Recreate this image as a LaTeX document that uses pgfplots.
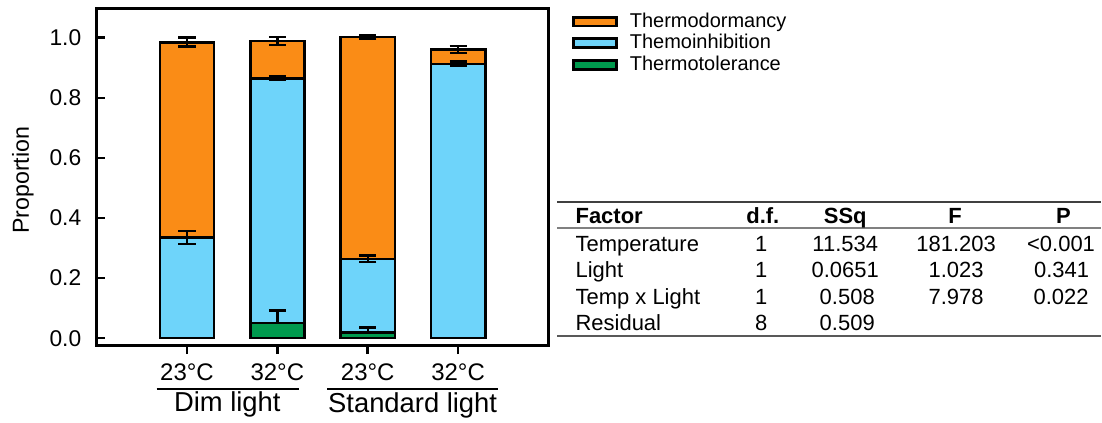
\documentclass[border=0pt]{standalone}
\usepackage{fontspec}
\setmainfont{Liberation Sans}
\usepackage{pgfplots}
\pgfplotsset{compat=1.18}
\definecolor{torange}{RGB}{250,140,22}
\definecolor{tblue}{RGB}{110,212,250}
\definecolor{tgreen}{RGB}{0,154,78}
\begin{document}
\begin{tikzpicture}
\pgfplotsset{myaxis/.style={at={(48.35pt,-173pt)}, anchor=south west, scale only axis,
  width=226.15pt, height=168.85pt, xmin=-1, xmax=4, ymin=-0.025, ymax=1.098}}
\begin{axis}[myaxis, ybar stacked, bar width=0.6,
  axis line style={line width=1.3pt},
  xtick={0,1,2,3}, xticklabels={23°C,32°C,23°C,32°C},
  ytick={0,0.2,0.4,0.6,0.8,1.0}, yticklabels={0.0,0.2,0.4,0.6,0.8,1.0},
  tick align=inside, xtick pos=left, ytick pos=left,
  major tick length=4.2pt,
  tick style={line width=1.3pt, black},
  xtick style={yshift=-4.2pt},
  xticklabel style={font=\fontsize{12}{14}\selectfont, anchor=base, yshift=-17.35pt, inner sep=0pt},
  yticklabel style={font=\fontsize{11.4}{13}\selectfont, anchor=east, inner sep=0pt, xshift=-7.5pt},
  ylabel={Proportion},
  ylabel style={font=\fontsize{11.6}{13}\selectfont, at={(axis description cs:-0.163,0.49)}, anchor=center},
]
\addplot[fill=tgreen, draw=black, line width=1.3pt] coordinates {(0,0) (1,0.051) (2,0.018) (3,0)};
\addplot[fill=tblue, draw=black, line width=1.3pt] coordinates {(0,0.335) (1,0.814) (2,0.246) (3,0.913)};
\addplot[fill=torange, draw=black, line width=1.3pt] coordinates {(0,0.650) (1,0.124) (2,0.739) (3,0.048)};
\end{axis}
\begin{axis}[myaxis, hide axis]
\addplot[draw=none, mark=none, error bars/.cd, y dir=both, y explicit,
  error bar style={draw=black, line width=1.2pt},
  error mark options={draw=black, line width=1.3pt, rotate=90, mark size=4.3pt}]
  coordinates {(0,0.335) +- (0,0.022) (0,0.985) +- (0,0.015)
               (1,0.865) +- (0,0.006) (1,0.989) +- (0,0.013)
               (2,0.264) +- (0,0.011) (2,1.003) +- (0,0.006)
               (3,0.913) +- (0,0.007) (3,0.961) +- (0,0.012)};
\addplot[draw=none, mark=none, error bars/.cd, y dir=plus, y explicit,
  error bar style={draw=black, line width=1.2pt},
  error mark options={draw=black, line width=1.3pt, rotate=90, mark size=4.3pt}]
  coordinates {(1,0.051) +- (0,0.042) (2,0.018) +- (0,0.018)};
\end{axis}
\begin{scope}[x=0.5pt, y=-0.5pt]
\path (0,0) rectangle (1102,423);
% group labels
\draw[line width=1pt] (156.7,389.3) -- (299.3,389.3);
\draw[line width=1pt] (327.3,389.3) -- (498.3,389.3);
\node[anchor=base, inner sep=0pt, font=\fontsize{13.7}{16}\selectfont] at (227.5,411.7) {Dim light};
\node[anchor=base, inner sep=0pt, font=\fontsize{13.7}{16}\selectfont] at (413,412.5) {Standard light};
% legend
\draw[line width=1.3pt, fill=torange] (574.3,17.3) rectangle (617,26);
\draw[line width=1.3pt, fill=tblue] (574.3,38.6) rectangle (617,47.3);
\draw[line width=1.3pt, fill=tgreen] (574.3,60.6) rectangle (617,69.3);
\begin{scope}[every node/.style={anchor=base west, inner sep=0pt, font=\fontsize{10}{12}\selectfont}]
\node at (630,27.5) {Thermodormancy};
\node at (630,48.7) {Themoinhibition};
\node at (630,70.7) {Thermotolerance};
\end{scope}
% table
\draw[line width=1pt, black!75] (557.7,202.3) -- (1102,202.3);
\draw[line width=1pt, black!50] (557.7,228.3) -- (1102,228.3);
\draw[line width=1pt, black!65] (557.7,336.7) -- (1102,336.7);
\begin{scope}[every node/.style={anchor=base, inner sep=0pt, font=\fontsize{11}{13}\selectfont}]
\node[anchor=base west, font=\fontsize{11}{13}\selectfont\bfseries] at (575.7,223.5) {Factor};
\node[font=\fontsize{11}{13}\selectfont\bfseries] at (763.5,223.5) {d.f.};
\node[font=\fontsize{11}{13}\selectfont\bfseries] at (846,223.5) {SSq};
\node[font=\fontsize{11}{13}\selectfont\bfseries] at (956,223.5) {F};
\node[font=\fontsize{11}{13}\selectfont\bfseries] at (1064.5,223.5) {P};
\node[anchor=base west] at (575.7,251.5) {Temperature};
\node[anchor=base west] at (575.7,278) {Light};
\node[anchor=base west] at (575.7,304.5) {Temp x Light};
\node[anchor=base west] at (575.7,330.5) {Residual};
\node at (762,251.5) {1}; \node at (762,278) {1}; \node at (762,304.5) {1}; \node at (762,330.5) {8};
\node at (846,251.5) {11.534}; \node at (846,278) {0.0651}; \node at (848,304.5) {0.508}; \node at (848,330.5) {0.509};
\node at (957,251.5) {181.203}; \node at (957,278) {1.023}; \node at (957,304.5) {7.978};
\node at (1062,251.5) {<0.001}; \node at (1062.5,278) {0.341}; \node at (1062,304.5) {0.022};
\end{scope}
\end{scope}
\end{tikzpicture}
\end{document}
